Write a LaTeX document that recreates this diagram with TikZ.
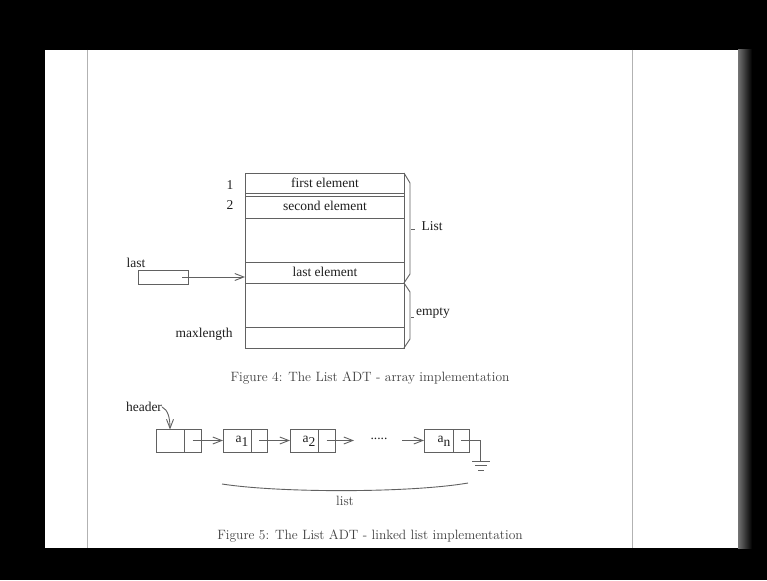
\documentclass[tikz,border=0pt]{standalone}
\usepackage{fontspec}
\newfontfamily\tms{Liberation Serif}
\usetikzlibrary{arrows.meta}
\begin{document}
\begin{tikzpicture}[x=1pt,y=-1pt,
  ln/.style={draw=black!62,line width=0.9pt},
  txt/.style={text=black!88,inner sep=0pt,font=\tms\fontsize{13.5}{15}\selectfont},
  captxt/.style={text=black!75,inner sep=0pt,font=\fontsize{13.5}{15}\selectfont},
  cell/.style={ln,inner sep=0pt,outer sep=0pt,minimum height=23pt},
  row/.style={ln,inner sep=0pt,outer sep=0pt,minimum width=159pt},
  arr/.style={ln,-{Straight Barb[length=9pt,width=7pt]}}]
% background and page
\fill[black] (0,0) rectangle (767,580);
\fill[white] (45,50) rectangle (738,548);
\shade[left color=black!55,right color=black] (738,50) rectangle (752,548);
\draw[black!30,line width=0.8pt] (87,50) -- (87,548);
\draw[black!30,line width=0.8pt] (632,50) -- (632,548);
\useasboundingbox (0,0) rectangle (767,580);

% ---------- Figure 4 ----------
\draw[ln] (245,173) rectangle (404,348);
\node[row,minimum height=20pt,anchor=north west] (r1) at (245,173) {};
\node[row,minimum height=22pt,anchor=north west] (r2) at (245,196) {};
\node[row,minimum height=44pt,anchor=north west] (r3) at (245,218) {};
\node[row,minimum height=21pt,anchor=north west] (r4) at (245,262) {};
\node[row,minimum height=44pt,anchor=north west] (r5) at (245,283) {};
\node[row,minimum height=21pt,anchor=north west] (r6) at (245,327) {};
\node[txt] (t1) at (325,183) {first element};
\node[txt] (t2) at (325,206) {second element};
\node[txt] (t4) at (325,272) {last element};
\node[txt] (n1) at (230,185) {1};
\node[txt] (n2) at (230,205) {2};
\node[txt] (ml) at (204,334) {maxlength};
% braces on the right
\draw[ln] (404,173) -- (410,183) -- (410,274) -- (404,283) -- (410,292) -- (410,339) -- (404,348);
\draw[ln] (411,229) -- (415,229);
\draw[ln] (411,317) -- (414,317);
\node[txt] (lst) at (432,226) {List};
\node[txt] (emp) at (433,313) {empty};
% last pointer
\node[txt] (lastlbl) at (136,263) {last};
\node[ln,inner sep=0pt,outer sep=0pt,minimum width=50pt,minimum height=14pt,anchor=north west] (lastbox) at (138,270) {};
\draw[arr] ([xshift=-6pt]lastbox.east) -- (lastbox.east -| r4.west);
\node[captxt] (cap4) at (370,378) {Figure 4: The List ADT - array implementation};

% ---------- Figure 5 ----------
\node[cell,minimum width=28pt,anchor=north west] (c0a) at (156,429) {};
\node[cell,minimum width=17pt,anchor=north west] (c0b) at (184,429) {};
\node[cell,minimum width=28pt,anchor=north west] (c1a) at (223,429) {};
\node[cell,minimum width=16pt,anchor=north west] (c1b) at (251,429) {};
\node[cell,minimum width=28pt,anchor=north west] (c2a) at (290,429) {};
\node[cell,minimum width=17pt,anchor=north west] (c2b) at (318,429) {};
\node[cell,minimum width=29pt,anchor=north west] (c3a) at (424,429) {};
\node[cell,minimum width=16pt,anchor=north west] (c3b) at (453,429) {};
\node[txt] (a1) at (242,441) {a\raisebox{-4pt}{1}};
\node[txt] (a2) at (309,441) {a\raisebox{-4pt}{2}};
\node[txt] (an) at (444,441) {a\raisebox{-4pt}{n}};
\draw[arr] (c0b.center) -- (c1a.west);
\draw[arr] (c1b.center) -- (c2a.west);
\coordinate (e2) at (354,440.5);
\draw[arr] (c2b.center) -- (e2);
\node[txt] (dots) at (379,439) {.....};
\coordinate (s3) at (402,440.5);
\draw[arr] (s3) -- (c3a.west);
% ground
\coordinate (g0) at (480,440.5);
\coordinate (g1) at (480,461);
\draw[ln] (c3b.center) -- (g0) -- (g1);
\draw[ln] (472,461) -- (490,461);
\draw[ln,line width=0.7pt] (475,465.5) -- (487,465.5);
\draw[ln,line width=0.6pt] (478,470) -- (484,470);
% header
\node[txt] (hdr) at (144,407) {header};
\draw[arr] (hdr.east) .. controls (168,410) and (170,418) .. (170,429.5);
% list brace
\draw[ln] (222,484) .. controls (280,493) and (410,493) .. (468,483);
\node[captxt] (lstl) at (345,501) {list};
\node[captxt] (cap5) at (370,536) {Figure 5: The List ADT - linked list implementation};
\end{tikzpicture}
\end{document}
